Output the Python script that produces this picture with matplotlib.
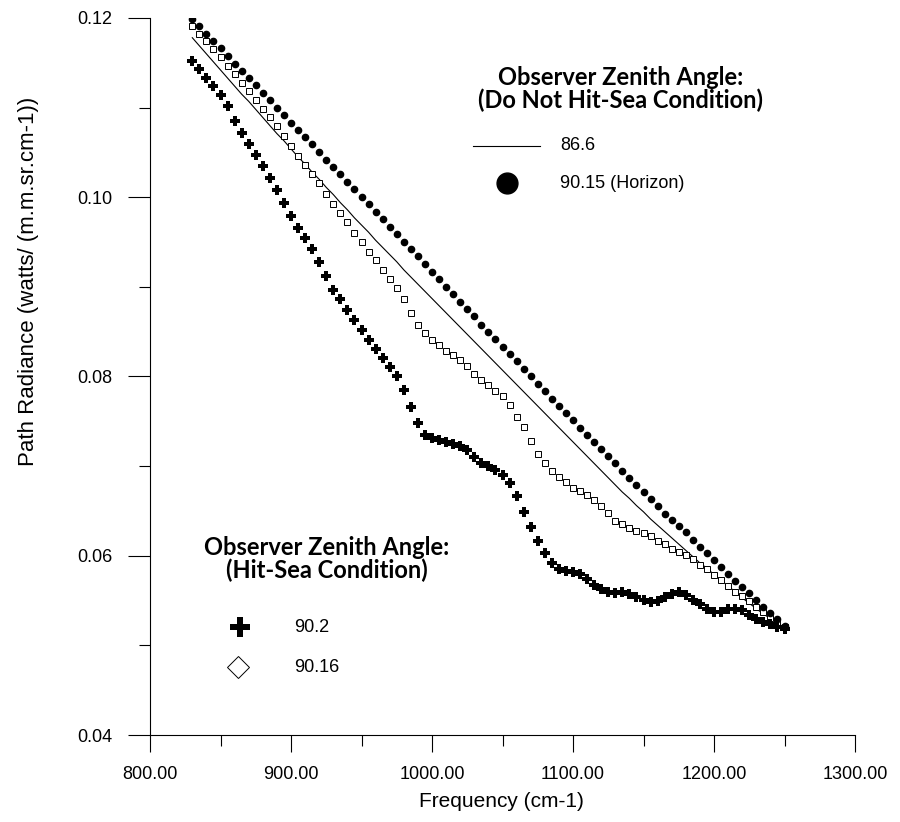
import numpy as np
import matplotlib.pyplot as plt

# frequency grid (cm-1)
freq = np.arange(830, 1255, 5)

# 86.6 deg (line)
rad_866 = [0.1178, 0.1169, 0.1160, 0.1151, 0.1142, 0.1133, 0.1124, 0.1115, 0.1107, 0.1098,
           0.1089, 0.1080, 0.1071, 0.1063, 0.1054, 0.1045, 0.1037, 0.1028, 0.1020, 0.1011,
           0.1003, 0.0994, 0.0986, 0.0977, 0.0969, 0.0961, 0.0952, 0.0944, 0.0936, 0.0928,
           0.0919, 0.0911, 0.0903, 0.0895, 0.0887, 0.0879, 0.0871, 0.0863, 0.0855, 0.0847,
           0.0839, 0.0831, 0.0823, 0.0815, 0.0807, 0.0799, 0.0791, 0.0783, 0.0775, 0.0767,
           0.0759, 0.0751, 0.0743, 0.0735, 0.0727, 0.0719, 0.0711, 0.0703, 0.0695, 0.0687,
           0.0679, 0.0671, 0.0664, 0.0656, 0.0649, 0.0641, 0.0634, 0.0627, 0.0620, 0.0613,
           0.0606, 0.0599, 0.0592, 0.0586, 0.0579, 0.0573, 0.0566, 0.0560, 0.0553, 0.0547,
           0.0541, 0.0535, 0.0530, 0.0525, 0.0520]

# 90.15 deg horizon (filled circles)
rad_9015 = [0.1199, 0.1191, 0.1182, 0.1174, 0.1166, 0.1158, 0.1149, 0.1141, 0.1133, 0.1125,
            0.1116, 0.1108, 0.1100, 0.1092, 0.1083, 0.1075, 0.1067, 0.1059, 0.1050, 0.1042,
            0.1034, 0.1026, 0.1017, 0.1009, 0.1000, 0.0992, 0.0984, 0.0976, 0.0967, 0.0959,
            0.0950, 0.0942, 0.0934, 0.0925, 0.0917, 0.0909, 0.0900, 0.0892, 0.0883, 0.0875,
            0.0867, 0.0858, 0.0850, 0.0842, 0.0833, 0.0825, 0.0817, 0.0808, 0.0800, 0.0792,
            0.0784, 0.0775, 0.0767, 0.0759, 0.0751, 0.0743, 0.0735, 0.0727, 0.0719, 0.0711,
            0.0703, 0.0695, 0.0687, 0.0679, 0.0671, 0.0663, 0.0655, 0.0647, 0.0640, 0.0633,
            0.0626, 0.0618, 0.0610, 0.0603, 0.0595, 0.0587, 0.0580, 0.0572, 0.0565, 0.0558,
            0.0551, 0.0543, 0.0536, 0.0529, 0.0522]

# 90.2 deg hit-sea (crosses)
rad_902 = [0.1152, 0.1143, 0.1133, 0.1124, 0.1114, 0.1102, 0.1085, 0.1072, 0.1059, 0.1047,
           0.1035, 0.1022, 0.1008, 0.0994, 0.0979, 0.0966, 0.0954, 0.0942, 0.0928, 0.0912,
           0.0897, 0.0886, 0.0874, 0.0863, 0.0852, 0.0841, 0.0831, 0.0821, 0.0811, 0.0801,
           0.0785, 0.0766, 0.0748, 0.0735, 0.0731, 0.0729, 0.0727, 0.0725, 0.0723, 0.0718,
           0.0710, 0.0704, 0.0700, 0.0696, 0.0690, 0.0681, 0.0667, 0.0649, 0.0632, 0.0617,
           0.0603, 0.0592, 0.0585, 0.0583, 0.0582, 0.0580, 0.0574, 0.0567, 0.0563, 0.0559,
           0.0558, 0.0560, 0.0557, 0.0554, 0.0551, 0.0548, 0.0550, 0.0554, 0.0557, 0.0559,
           0.0556, 0.0551, 0.0546, 0.0541, 0.0537, 0.0537, 0.0541, 0.0541, 0.0539, 0.0534,
           0.0529, 0.0526, 0.0524, 0.0521, 0.0518]

# 90.16 deg hit-sea (open markers)
rad_9016 = [0.1191, 0.1182, 0.1174, 0.1165, 0.1156, 0.1147, 0.1138, 0.1128, 0.1118, 0.1109,
            0.1099, 0.1089, 0.1079, 0.1068, 0.1057, 0.1046, 0.1036, 0.1026, 0.1016, 0.1004,
            0.0992, 0.0982, 0.0972, 0.0960, 0.0950, 0.0939, 0.0930, 0.0919, 0.0909, 0.0899,
            0.0886, 0.0871, 0.0857, 0.0848, 0.0841, 0.0835, 0.0829, 0.0824, 0.0818, 0.0812,
            0.0803, 0.0796, 0.0791, 0.0784, 0.0778, 0.0768, 0.0755, 0.0744, 0.0728, 0.0714,
            0.0703, 0.0695, 0.0688, 0.0682, 0.0676, 0.0672, 0.0668, 0.0662, 0.0656, 0.0648,
            0.0639, 0.0635, 0.0631, 0.0628, 0.0625, 0.0622, 0.0617, 0.0613, 0.0607, 0.0604,
            0.0601, 0.0596, 0.0590, 0.0585, 0.0579, 0.0573, 0.0566, 0.0560, 0.0555, 0.0549,
            0.0543, 0.0537, 0.0531, 0.0526, 0.0521]

xticks = [800, 900, 1000, 1100, 1200, 1300]
yticks = [0.04, 0.06, 0.08, 0.10, 0.12]

plt.rcParams['font.family'] = ['Liberation Sans', 'DejaVu Sans']

fig = plt.figure(figsize=(9, 8.22), dpi=100)
ax = fig.add_axes([150 / 900, 87 / 822, 705 / 900, 717 / 822])

ax.plot(freq, rad_866, color='black', lw=0.8)
ax.plot(freq, rad_9016, ls='none', marker='s', ms=4, mfc='white', mec='black', mew=0.7)
ax.plot(freq, rad_9015, ls='none', marker='o', ms=4.5, color='black')
ax.plot(freq, rad_902, ls='none', marker='P', ms=6.5, color='black', mew=0)

ax.set_xlim(800, 1300)
ax.set_ylim(0.04, 0.12)
ax.spines['top'].set_visible(False)
ax.spines['right'].set_visible(False)
ax.set_xticks(xticks)
ax.set_xticks(np.arange(850, 1300, 100), minor=True)
ax.set_yticks(yticks)
ax.set_yticks([0.05, 0.07, 0.09, 0.11], minor=True)
ax.set_xticklabels(['%.2f' % v for v in xticks])
ax.set_yticklabels(['%.2f' % v for v in yticks])
ax.tick_params(which='major', direction='out', width=0.8, labelsize=13)
ax.tick_params(axis='y', which='major', length=16, pad=11)
ax.tick_params(axis='x', which='major', length=12, pad=10)
ax.tick_params(which='minor', direction='out', length=8, width=0.8)
ax.set_xlabel('Frequency (cm-1)', fontsize=15)
ax.set_ylabel('Path Radiance (watts/ (m.m.sr.cm-1))', fontsize=16)
ax.xaxis.set_label_coords(0.499, -0.08)
ax.yaxis.set_label_coords(-0.158, 0.632)


def axp(px, py):
    return (px - 150) / 705, (735 - py) / 717


title_font = dict(family=['Lato', 'DejaVu Sans'], weight='bold', fontsize=17,
                  ha='center', va='center', linespacing=0.95)

# legend: do not hit sea
x, y = axp(621, 89)
ax.text(x, y, 'Observer Zenith Angle:\n(Do Not Hit-Sea Condition)', transform=ax.transAxes, **title_font)
x0, y0 = axp(473, 146)
x1, _ = axp(540, 146)
ax.plot([x0, x1], [y0, y0], color='black', lw=0.8, transform=ax.transAxes, clip_on=False)
x, y = axp(560, 146)
ax.text(x, y, '86.6', transform=ax.transAxes, fontsize=13, va='center')
x, y = axp(507, 183)
ax.plot([x], [y], marker='o', ms=15, color='black', transform=ax.transAxes, clip_on=False)
x, y = axp(560, 183)
ax.text(x, y, '90.15 (Horizon)', transform=ax.transAxes, fontsize=13, va='center')

# legend: hit sea
x, y = axp(327, 559)
ax.text(x, y, 'Observer Zenith Angle:\n(Hit-Sea Condition)', transform=ax.transAxes, **title_font)
x, y = axp(240, 627)
ax.plot([x], [y], marker='P', ms=15, color='black', mew=0, transform=ax.transAxes, clip_on=False)
x, y = axp(294, 627)
ax.text(x, y, '90.2', transform=ax.transAxes, fontsize=13, va='center')
x, y = axp(238, 667)
ax.plot([x], [y], marker='D', ms=11, mfc='white', mec='black', mew=0.7,
        transform=ax.transAxes, clip_on=False)
x, y = axp(294, 667)
ax.text(x, y, '90.16', transform=ax.transAxes, fontsize=13, va='center')

fig.savefig('out.png', dpi=100)
